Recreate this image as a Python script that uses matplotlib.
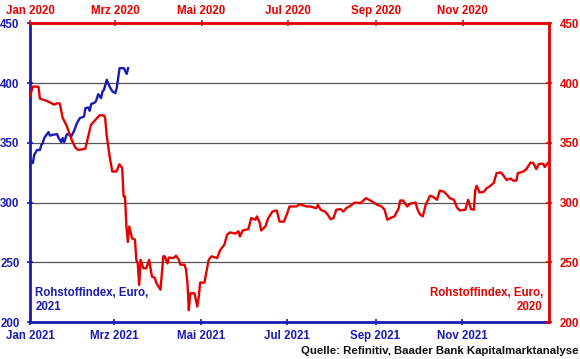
import numpy as np
import pandas as pd
import matplotlib
matplotlib.use("Agg")
import matplotlib.pyplot as plt
import matplotlib.dates as mdates
from matplotlib.ticker import FuncFormatter

# Rohstoffindex 2020 (rot): Tag seit 1.1.2020, Indexwert
red_days = [0, 2, 6, 7, 12, 17, 19, 21, 23, 26, 28, 30, 32, 34, 39, 43, 49, 52, 53, 54,
            56, 58, 59, 61, 63, 65, 66, 67, 68, 69, 70, 72, 74, 75, 76, 77, 78, 80, 82, 84,
            86, 88, 89, 92, 94, 95, 97, 98, 101, 103, 105, 106, 109, 110, 111, 112, 113, 116, 118, 119,
            120, 123, 126, 128, 132, 134, 137, 139, 141, 145, 147, 148, 150, 154, 156, 159, 160, 162, 163, 166,
            168, 171, 174, 176, 179, 181, 183, 188, 190, 193, 195, 198, 200, 202, 203, 205, 208, 210, 212, 214,
            216, 219, 221, 223, 226, 229, 233, 237, 241, 245, 248, 250, 252, 254, 257, 260, 261, 263, 266, 268,
            272, 273, 275, 277, 279, 282, 284, 287, 289, 292, 294, 296, 299, 301, 303, 307, 309, 311, 313, 314,
            315, 317, 320, 322, 324, 327, 329, 332, 334, 336, 339, 341, 343, 344, 348, 350, 353, 355, 357, 359,
            362, 363, 365]
red_vals = [389, 397, 397, 387, 385, 382, 383, 383, 371, 364, 357, 351, 346, 344, 345, 365, 373, 373, 371, 357,
            340, 326, 326, 326, 332, 329, 305, 305, 280, 267, 280, 270, 269, 252, 249, 231, 252, 245, 245, 252,
            238, 237, 233, 227, 255, 255, 249, 254, 253.5, 255.5, 252, 248, 248, 244, 233, 210, 224, 224, 213, 221,
            233, 233, 252, 255, 253.5, 260, 264.6, 273, 275, 274, 276, 271.6, 276.6, 277.8, 287, 285.6, 288.4, 283, 276.6, 280,
            287, 292.5, 293.4, 284, 284, 289.7, 296.7, 296.7, 298.7, 297.5, 296.7, 296.7, 295.9, 295.3, 298, 294, 292.5, 289.7, 286, 287,
            294, 294.5, 292.5, 295.3, 297.3, 300, 299.5, 303.7, 301, 298, 296.7, 294, 285.6, 287, 288.4, 295.3, 301.7, 301.7, 296.7, 299,
            300, 295, 290, 288.5, 298, 305.6, 305, 302.3, 310, 309, 306.5, 303.7, 302.3, 296, 293.4, 294, 302.3, 294.5, 294, 310.7,
            314, 308.4, 309, 312, 313.4, 316.3, 324.6, 325.2, 322.4, 319, 320, 318.2, 318.5, 324.6, 326, 328, 333.5, 333, 328, 332.4,
            332.4, 329.7, 333]

# Rohstoffindex 2021 (blau): Tag seit 1.1.2021, Indexwert
blue_days = [0, 2, 3, 5, 7, 8, 9, 10, 13, 14, 16, 19, 20, 22, 23, 24, 26, 28, 29, 31,
             33, 35, 38, 39, 41, 42, 43, 46, 47, 48, 50, 51, 52, 54, 56, 58, 60, 61, 63, 66,
             68, 69]
blue_vals = [335.8, 333, 340, 344, 344, 348.3, 349.7, 354, 359, 356, 356.7, 357.3, 354.4, 350.6, 354, 350.6, 357.3, 356.7, 355.3, 360,
             366.4, 370.6, 372, 379, 379.6, 376.8, 382.4, 384, 386.8, 390.7, 387.4, 393, 394.3, 402.7, 397, 393, 391.6, 395.8, 412.5, 412.5,
             407.7, 412.5]

RED = "#e60000"
BLUE = "#1a1ab4"
MONATE = ["Jan", "Feb", "Mrz", "Apr", "Mai", "Jun", "Jul", "Aug", "Sep", "Okt", "Nov", "Dez"]

plt.rcParams["font.family"] = ["Liberation Sans", "DejaVu Sans"]
plt.rcParams["font.weight"] = "bold"

red_dates = pd.Timestamp("2020-01-01") + pd.to_timedelta(red_days, unit="D")
blue_dates = pd.Timestamp("2021-01-01") + pd.to_timedelta(blue_days, unit="D")

fig = plt.figure(figsize=(5.8, 3.59), dpi=100)
rect = [0.0517, 0.103, 0.8949, 0.832]
ax = fig.add_axes(rect)                    # 2021: unten / links
ax2 = fig.add_axes(rect, facecolor="none")  # 2020: oben / rechts

for v in [250, 300, 350, 400]:
    ax.axhline(v, color="#555555", lw=0.9, zorder=0)

ax2.plot(red_dates, red_vals, color=RED, lw=1.7)
ax.plot(blue_dates, blue_vals, color=BLUE, lw=1.7)

fmt = FuncFormatter(lambda x, pos: f"{MONATE[mdates.num2date(x).month - 1]} {mdates.num2date(x).year}")

ax.set_xlim(pd.Timestamp("2021-01-01"), pd.Timestamp("2022-01-01"))
ax.set_ylim(200, 450)
ax.set_xticks(pd.date_range("2021-01-01", periods=6, freq="2MS"))
ax.xaxis.set_major_formatter(fmt)
ax.set_yticks([200, 250, 300, 350, 400, 450])

ax2.set_xlim(pd.Timestamp("2020-01-01"), pd.Timestamp("2021-01-01"))
ax2.set_ylim(200, 450)
ax2.set_xticks(pd.date_range("2020-01-01", periods=6, freq="2MS"))
ax2.xaxis.set_major_formatter(fmt)
ax2.set_yticks([200, 250, 300, 350, 400, 450])
ax2.xaxis.tick_top()
ax2.yaxis.tick_right()

for s in ["top", "right"]:
    ax.spines[s].set_visible(False)
    ax2.spines[s].set_color(RED)
    ax2.spines[s].set_linewidth(2)
for s in ["left", "bottom"]:
    ax2.spines[s].set_visible(False)
    ax.spines[s].set_color(BLUE)
    ax.spines[s].set_linewidth(2)

ax.tick_params(colors=BLUE, labelcolor=BLUE, direction="inout", length=5, width=1.2, labelsize=8.3)
ax.tick_params(axis="y", pad=5)
ax.tick_params(axis="x", pad=3)
ax2.tick_params(colors=RED, labelcolor=RED, direction="inout", length=5, width=1.2, labelsize=8.3)
ax2.tick_params(axis="y", pad=5)
ax2.tick_params(axis="x", pad=2)
for lab in ax.get_xticklabels() + ax.get_yticklabels() + ax2.get_xticklabels() + ax2.get_yticklabels():
    lab.set_fontweight("bold")

ax.text(0.01, 0.03, "Rohstoffindex, Euro,\n2021", transform=ax.transAxes, color=BLUE,
        fontsize=8.3, fontweight="bold", ha="left", va="bottom")
ax.text(0.988, 0.03, "Rohstoffindex, Euro,\n2020", transform=ax.transAxes, color=RED,
        fontsize=8.3, fontweight="bold", ha="right", va="bottom", multialignment="right")
fig.text(0.997, 0.022, "Quelle: Refinitiv, Baader Bank Kapitalmarktanalyse", color="#111111",
         fontsize=8.2, fontweight="bold", ha="right", va="center")

fig.savefig("out.png", dpi=100)
